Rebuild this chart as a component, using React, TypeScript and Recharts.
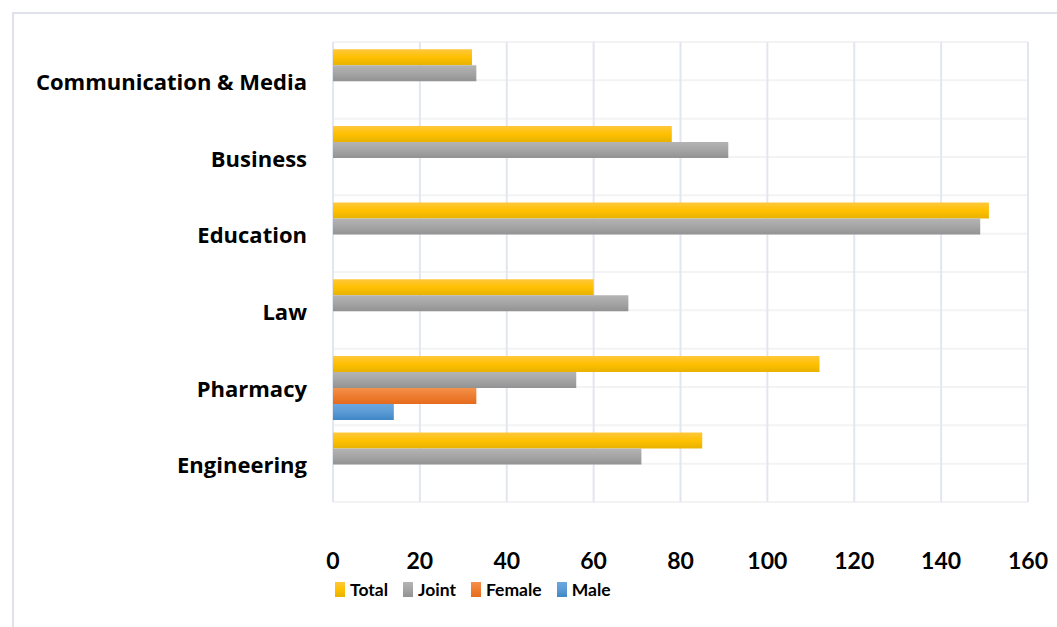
import React from 'react';
import { BarChart, Bar, XAxis, YAxis, CartesianGrid } from 'recharts';

const categories = ['Communication & Media', 'Business', 'Education', 'Law', 'Pharmacy', 'Engineering'];
const totalValues = [32, 78, 151, 60, 112, 85];
const jointValues = [33, 91, 149, 68, 56, 71];
const femaleValues = [0, 0, 0, 0, 33, 0];
const maleValues = [0, 0, 0, 0, 14, 0];
const xTicks = [0, 20, 40, 60, 80, 100, 120, 140, 160];

const series = [
    { key: 'Total', top: '#ffc83d', mid: '#ffc000', bottom: '#e8b200' },
    { key: 'Joint', top: '#b4b4b4', mid: '#a5a5a5', bottom: '#929292' },
    { key: 'Female', top: '#f5914b', mid: '#ed7d31', bottom: '#e56b1c' },
    { key: 'Male', top: '#6ca6e0', mid: '#5b9bd5', bottom: '#3f87c6' },
];

const data = categories.map((name, i) => ({
    name,
    Total: totalValues[i],
    Joint: jointValues[i],
    Female: femaleValues[i] || null,
    Male: maleValues[i] || null,
}));

const FONT = 'Lato, Carlito, Calibri, sans-serif';
const LABEL_FONT = '"Open Sans", sans-serif';

const App: React.FC = () => {
    return (
        <div style={{ position: 'absolute', left: 0, top: 0, width: 1057, height: 627, background: '#fff', overflow: 'hidden', fontFamily: FONT }}>
            <div
                style={{
                    position: 'absolute',
                    left: 12,
                    top: 12,
                    width: 1100,
                    height: 700,
                    borderLeft: '2px solid #dfe3e9',
                    borderTop: '2px solid #dfe3e9',
                }}
            />
            <div style={{ position: 'absolute', left: 0, top: 0 }}>
                <BarChart
                    width={1057}
                    height={627}
                    data={data}
                    layout="vertical"
                    margin={{ top: 42, right: 29, left: 0, bottom: 55 }}
                    barCategoryGap="9.5%"
                    barGap={0}
                >
                    <defs>
                        {series.map((s) => (
                            <linearGradient key={s.key} id={`grad${s.key}`} x1="0" y1="0" x2="0" y2="1">
                                <stop offset="0%" stopColor={s.top} />
                                <stop offset="50%" stopColor={s.mid} />
                                <stop offset="100%" stopColor={s.bottom} />
                            </linearGradient>
                        ))}
                    </defs>
                    <CartesianGrid
                        vertical={false}
                        stroke="#f3f3f3"
                        strokeWidth={2}
                        horizontalCoordinatesGenerator={({ offset }: any) =>
                            Array.from({ length: 13 }, (_, i) => offset.top + (offset.height * i) / 12)
                        }
                    />
                    <CartesianGrid horizontal={false} stroke="#e2e6ee" strokeWidth={2} />
                    <XAxis
                        type="number"
                        domain={[0, 160]}
                        ticks={xTicks}
                        axisLine={false}
                        tickLine={false}
                        tickSize={0}
                        tickMargin={51}
                        height={70}
                        tick={{ fill: '#000', fontSize: 23, fontWeight: 700, fontFamily: FONT }}
                    />
                    <YAxis
                        type="category"
                        dataKey="name"
                        width={333}
                        axisLine={false}
                        tickLine={false}
                        tickSize={0}
                        tickMargin={26}
                        interval={0}
                        tick={{ fill: '#000', fontSize: 22, fontWeight: 700, fontFamily: LABEL_FONT, dy: 2 }}
                    />
                    {series.map((s) => (
                        <Bar key={s.key} dataKey={s.key} fill={`url(#grad${s.key})`} isAnimationActive={false} />
                    ))}
                </BarChart>
            </div>
            <div
                style={{
                    position: 'absolute',
                    left: 335,
                    top: 579,
                    display: 'flex',
                    alignItems: 'center',
                    fontSize: 17.5,
                    fontWeight: 700,
                    color: '#000',
                }}
            >
                {series.map((s) => (
                    <div key={s.key} style={{ display: 'flex', alignItems: 'center', marginRight: 15 }}>
                        <span
                            style={{
                                display: 'inline-block',
                                width: 10,
                                height: 15,
                                marginRight: 5,
                                background: `linear-gradient(${s.top}, ${s.mid}, ${s.bottom})`,
                            }}
                        />
                        <span>{s.key}</span>
                    </div>
                ))}
            </div>
        </div>
    );
};

export default App;
